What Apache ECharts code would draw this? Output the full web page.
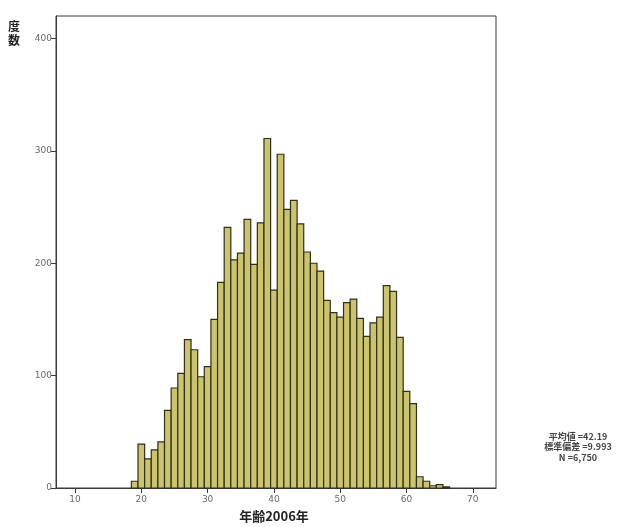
<!DOCTYPE html>
<html>
<head>
<meta charset="utf-8">
<script src="https://cdn.jsdelivr.net/npm/echarts@6/dist/echarts.min.js"></script>
<style>
html,body{margin:0;padding:0;background:#fff;}
#c{width:621px;height:527px;}
</style>
</head>
<body>
<div id="c"></div>
<script>
// Age (years) of each histogram bin and its count
const ages = [19,20,21,22,23,24,25,26,27,28,29,30,31,32,33,34,35,36,37,38,39,40,41,42,43,44,45,46,47,48,49,50,51,52,53,54,55,56,57,58,59,60,61,62,63,64,65,66];
const counts = [6,39,26,34,41,69,89,102,132,123,99,108,150,183,232,203,209,239,199,236,311,176,297,248,256,235,210,200,193,167,156,152,165,168,151,135,147,152,180,175,134,86,75,10,6,2,3,1];
const xTicks = [10,20,30,40,50,60,70];
const yTicks = [0,100,200,300,400];
const yTitle = '度\n数';
const xTitle = '年齢2006年';
const statLines = ['平均値 =42.19','標準偏差 =9.993','N =6,750'];

const data = ages.map((a,i)=>[a,counts[i]]);
const chart = echarts.init(document.getElementById('c'));
chart.setOption({
  animation:false,
  backgroundColor:'#fff',
  grid:{left:56,right:125,top:16,bottom:39,show:true,borderColor:'#3a3a3a',borderWidth:1,backgroundColor:'transparent'},
  xAxis:{type:'value',min:7.13,max:73.5,
    axisLine:{show:true,lineStyle:{color:'#3a3a3a',width:1}},
    axisTick:{show:true,length:5,inside:false,customValues:xTicks,lineStyle:{color:'#3a3a3a'}},
    axisLabel:{customValues:xTicks,color:'#666',fontSize:9,fontFamily:'DejaVu Sans',margin:7},
    splitLine:{show:false}},
  yAxis:{type:'value',min:0,max:420,
    axisLine:{show:true,lineStyle:{color:'#3a3a3a',width:1}},
    axisTick:{show:true,length:5,customValues:yTicks,lineStyle:{color:'#3a3a3a'}},
    axisLabel:{customValues:yTicks,color:'#666',fontSize:9,fontFamily:'DejaVu Sans',margin:4},
    splitLine:{show:false}},
  series:[{
    type:'custom',
    data:data,
    renderItem:function(params,api){
      const a = api.value(0), v = api.value(1);
      const p0 = api.coord([a-0.5, v]);
      const p1 = api.coord([a+0.5, 0]);
      return {type:'rect',shape:{x:p0[0],y:p0[1],width:p1[0]-p0[0],height:p1[1]-p0[1]},
        style:{fill:'#cbc46c',stroke:'#2f2f1c',lineWidth:1.2}};
    }
  }],
  graphic:[
    {type:'text',x:8,y:19,style:{text:yTitle,font:'bold 12px "Noto Sans CJK JP"',fill:'#222',lineHeight:14}},
    {type:'text',x:274,y:510,style:{text:xTitle,font:'bold 13px "Noto Sans CJK JP"',fill:'#222',align:'center'}},
    {type:'text',x:578,y:431,style:{text:statLines.join('\n'),font:'bold 9px "Noto Sans CJK JP"',fill:'#444',align:'center',lineHeight:10.5}}
  ]
});
</script>
</body>
</html>
